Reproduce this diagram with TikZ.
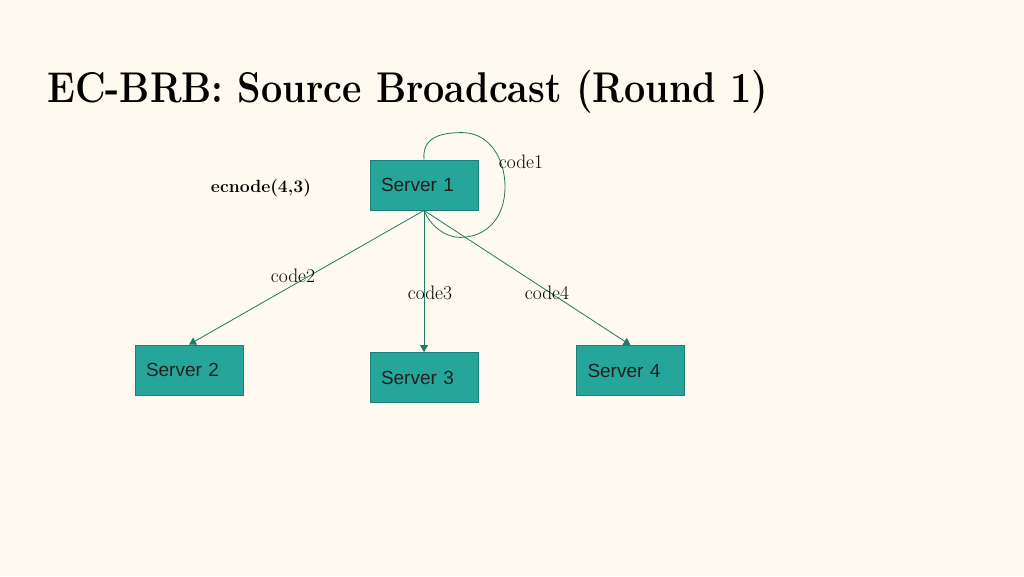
\documentclass[tikz,border=0pt]{standalone}
\usepackage{fontspec}
\usetikzlibrary{arrows.meta,calc}
\newfontfamily\boxfont{Liberation Sans}
\definecolor{bgcol}{HTML}{FEFAEF}
\definecolor{boxfill}{HTML}{26A69A}
\definecolor{boxline}{HTML}{1E7F74}
\definecolor{edgecol}{HTML}{1F7A62}
\begin{document}
\begin{tikzpicture}[x=1pt,y=-1pt,
  srvbox/.style={draw=boxline, line width=0.8pt, fill=boxfill, minimum height=50pt,
    text width=86pt, inner xsep=11pt, inner ysep=0pt, align=left,
    font=\boxfont\fontsize{19}{22}\selectfont, text=black!88},
  edgelbl/.style={font=\fontsize{19.5}{22}\selectfont, inner sep=0pt},
  conn/.style={draw=edgecol, line width=0.8pt},
  arr/.style={conn, -{Triangle[width=8pt,length=7pt]}}]
\fill[bgcol] (0,0) rectangle (1024,576);
\useasboundingbox (0,0) rectangle (1024,576);
\node[anchor=base west, inner sep=0pt] (title) at (47,102)
  {\resizebox{721pt}{\height}{\fontsize{43}{43}\selectfont\bfseries EC-BRB: Source Broadcast (Round 1)}};
\node[srvbox] (s1) at (424,185) {Server 1};
\node[srvbox] (s2) at (189,370) {Server 2};
\node[srvbox] (s3) at (424,377.5) {Server 3};
\node[srvbox] (s4) at (630.5,370.5) {Server 4};
\coordinate (ltop) at ($(s1.north)+(38,-27)$);
\coordinate (lright) at ($(s1.north)+(81,27)$);
\coordinate (lbot) at ($(s1.south)+(36,27)$);
\draw[conn] (s1.north) .. controls +(-2,-22) and +(-22,0) .. (ltop)
  .. controls +(28,0) and +(0,-27) .. (lright)
  .. controls +(0,33) and +(25,0) .. (lbot)
  .. controls +(-15,0) and +(6,15) .. (s1.south);
\draw[arr] (s1.south) -- (s2.north);
\draw[arr] (s1.south) -- (s3.north);
\draw[arr] (s1.south) -- (s4.north);
\node[edgelbl] (l1) at (521,162) {code1};
\node[edgelbl] (l2) at (293,276) {code2};
\node[edgelbl] (l3) at (430,293) {code3};
\node[edgelbl] (l4) at (547,293) {code4};
\node[inner sep=0pt, font=\fontsize{17.6}{20}\selectfont\bfseries] (ec) at (261,188) {ecnode(4,3)};
\end{tikzpicture}
\end{document}
